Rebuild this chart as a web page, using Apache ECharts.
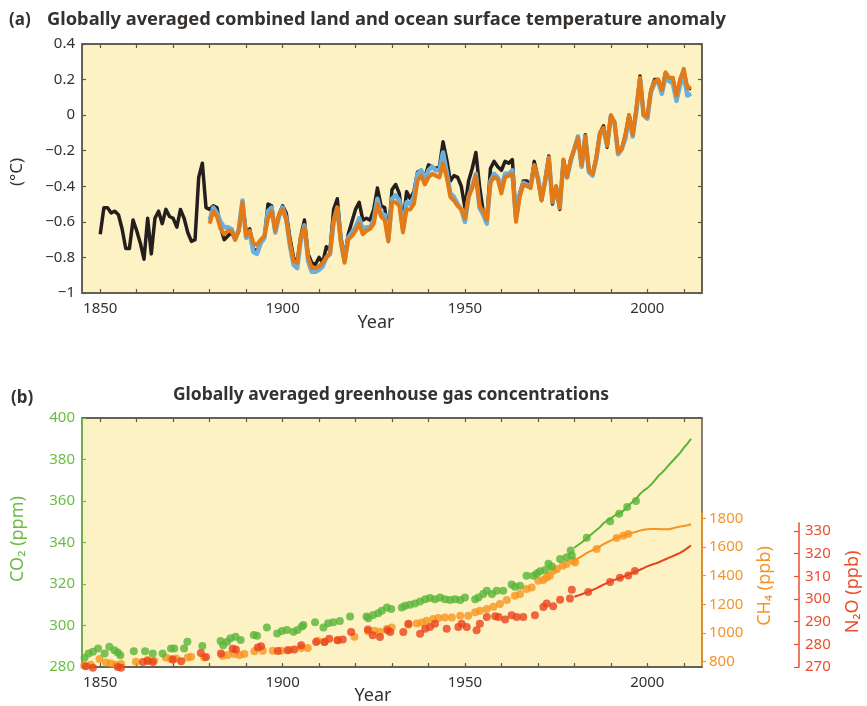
<!DOCTYPE html>
<html>
<head>
<meta charset="utf-8">
<script src="https://cdn.jsdelivr.net/npm/echarts@6/dist/echarts.min.js"></script>
<style>
  html, body { margin: 0; padding: 0; background: #ffffff; }
  #chart { width: 867px; height: 706px; }
</style>
</head>
<body>
<div id="chart"></div>
<script>
// ---- (a) annual temperature anomaly (°C) ----
const tempStart = 1850;          // first year of the long record
const landOceanStart = 1880;     // first year of the two shorter records

const hadcrut4 = [
  -0.67,-0.52,-0.52,-0.55,-0.54,-0.56,-0.64,-0.75,-0.75,-0.59,
  -0.65,-0.72,-0.81,-0.58,-0.78,-0.58,-0.54,-0.61,-0.53,-0.57,
  -0.58,-0.63,-0.53,-0.58,-0.66,-0.71,-0.70,-0.35,-0.27,-0.52,
  -0.53,-0.51,-0.52,-0.63,-0.70,-0.68,-0.66,-0.70,-0.65,-0.49,
  -0.66,-0.64,-0.75,-0.77,-0.71,-0.69,-0.50,-0.51,-0.66,-0.56,
  -0.51,-0.55,-0.69,-0.80,-0.83,-0.68,-0.59,-0.78,-0.83,-0.84,
  -0.80,-0.83,-0.74,-0.76,-0.53,-0.47,-0.69,-0.80,-0.67,-0.60,
  -0.53,-0.49,-0.59,-0.58,-0.59,-0.53,-0.41,-0.51,-0.52,-0.67,
  -0.42,-0.39,-0.44,-0.61,-0.43,-0.47,-0.43,-0.32,-0.31,-0.35,
  -0.28,-0.29,-0.30,-0.29,-0.15,-0.25,-0.37,-0.34,-0.35,-0.40,
  -0.52,-0.37,-0.30,-0.21,-0.40,-0.54,-0.58,-0.30,-0.26,-0.29,
  -0.31,-0.26,-0.27,-0.25,-0.57,-0.44,-0.37,-0.37,-0.40,-0.26,
  -0.35,-0.48,-0.36,-0.23,-0.50,-0.40,-0.53,-0.25,-0.35,-0.25,
  -0.19,-0.12,-0.29,-0.11,-0.32,-0.33,-0.24,-0.10,-0.06,-0.18,
   0.00,-0.04,-0.21,-0.19,-0.11, 0.00,-0.10, 0.03, 0.22, 0.00,
  -0.01, 0.14, 0.20, 0.20, 0.13, 0.24, 0.20, 0.21, 0.10, 0.20,
   0.25, 0.15, 0.15
];

const noaaMlost = [
  -0.61,-0.54,-0.57,-0.64,-0.67,-0.65,-0.65,-0.70,-0.65,-0.49,
  -0.68,-0.65,-0.72,-0.73,-0.70,-0.68,-0.58,-0.54,-0.65,-0.56,
  -0.53,-0.59,-0.72,-0.82,-0.83,-0.68,-0.63,-0.80,-0.86,-0.86,
  -0.85,-0.83,-0.80,-0.78,-0.59,-0.52,-0.72,-0.83,-0.70,-0.68,
  -0.65,-0.61,-0.67,-0.65,-0.64,-0.61,-0.50,-0.57,-0.59,-0.71,
  -0.49,-0.49,-0.51,-0.66,-0.53,-0.53,-0.50,-0.37,-0.34,-0.39,
  -0.35,-0.33,-0.34,-0.35,-0.27,-0.35,-0.46,-0.48,-0.51,-0.53,
  -0.58,-0.46,-0.41,-0.34,-0.51,-0.54,-0.59,-0.38,-0.35,-0.36,
  -0.44,-0.35,-0.34,-0.33,-0.60,-0.46,-0.39,-0.40,-0.41,-0.28,
  -0.36,-0.48,-0.37,-0.24,-0.49,-0.40,-0.52,-0.25,-0.35,-0.25,
  -0.19,-0.13,-0.28,-0.12,-0.31,-0.33,-0.24,-0.10,-0.07,-0.17,
   0.00,-0.04,-0.21,-0.19,-0.11, 0.00,-0.11, 0.04, 0.21, 0.00,
  -0.01, 0.14, 0.19, 0.20, 0.14, 0.24, 0.21, 0.21, 0.11, 0.20,
   0.26, 0.15, 0.16
];

const nasaGiss = [
  -0.59,-0.52,-0.55,-0.60,-0.63,-0.63,-0.64,-0.70,-0.64,-0.48,
  -0.69,-0.66,-0.77,-0.78,-0.72,-0.69,-0.54,-0.52,-0.66,-0.57,
  -0.52,-0.58,-0.73,-0.84,-0.86,-0.70,-0.62,-0.82,-0.88,-0.88,
  -0.87,-0.85,-0.80,-0.78,-0.60,-0.52,-0.71,-0.82,-0.69,-0.66,
  -0.63,-0.58,-0.64,-0.63,-0.63,-0.59,-0.47,-0.56,-0.56,-0.70,
  -0.47,-0.45,-0.48,-0.64,-0.49,-0.50,-0.46,-0.33,-0.31,-0.36,
  -0.31,-0.29,-0.31,-0.31,-0.21,-0.32,-0.44,-0.46,-0.50,-0.53,
  -0.60,-0.46,-0.40,-0.33,-0.52,-0.56,-0.61,-0.37,-0.33,-0.35,
  -0.41,-0.33,-0.33,-0.31,-0.58,-0.45,-0.38,-0.39,-0.40,-0.29,
  -0.35,-0.47,-0.37,-0.24,-0.49,-0.41,-0.52,-0.27,-0.35,-0.26,
  -0.19,-0.12,-0.29,-0.12,-0.32,-0.34,-0.25,-0.11,-0.08,-0.17,
  -0.01,-0.04,-0.22,-0.19,-0.13,-0.01,-0.12, 0.02, 0.20, 0.00,
  -0.02, 0.13, 0.18, 0.19, 0.12, 0.22, 0.19, 0.18, 0.08, 0.17,
   0.22, 0.11, 0.12
];

// ---- (b) greenhouse gases: ice-core / firn samples (dots) ----
const co2CoreYears = [
  1845.7,1846.8,1848.0,1849.4,1851.2,1852.5,1853.9,1854.8,1855.5,1859.2,
  1862.3,1864.4,1867.1,1869.4,1870.3,1873.0,1873.9,1878.0,1883.0,1883.7,
  1884.8,1885.7,1887.1,1888.5,1892.1,1893.0,1895.7,1898.5,1899.8,1901.2,
  1903.0,1904.1,1905.3,1905.7,1908.9,1911.2,1912.5,1913.9,1915.7,1918.5,
  1923.0,1923.5,1924.8,1926.2,1927.2,1928.6,1929.8,1932.7,1933.6,1934.9,
  1936.3,1937.7,1939.1,1940.4,1941.8,1943.2,1944.5,1945.9,1947.3,1948.7,
  1950.0,1952.8,1953.7,1955.0,1956.0,1957.4,1958.7,1960.5,1962.8,1963.7,
  1965.1,1966.9,1968.8,1969.7,1970.6,1972.0,1972.9,1973.8,1976.1,1977.9,
  1979.0,1979.3,1983.4,1989.8,1992.3,1994.5,1996.9
];
const co2CoreValues = [
  284.4,286.5,287.3,288.9,286.5,289.7,288.1,287.0,285.7,287.6,
  287.6,286.5,286.5,288.9,288.9,288.9,292.2,290.1,292.5,290.5,
  292.2,293.8,294.6,293.0,295.4,295.1,299.0,296.2,297.4,297.8,
  297.0,297.8,299.5,300.3,301.6,299.0,301.1,301.6,302.2,304.3,
  304.3,303.5,305.1,305.9,307.1,308.7,307.9,308.7,309.5,310.0,
  310.6,311.6,312.7,313.2,312.7,313.5,312.7,312.3,312.7,312.3,
  313.5,312.7,313.5,315.2,316.8,315.2,316.8,316.8,319.7,318.7,
  319.2,324.0,324.0,325.1,326.1,326.8,329.7,328.4,332.1,332.9,
  336.1,333.7,342.3,350.3,353.9,357.1,360.0
];

const ch4CoreYears = [
  1845.6,1847.4,1849.8,1851.6,1853.0,1854.3,1855.7,1859.8,1863.0,1864.8,
  1868.0,1869.4,1870.8,1874.0,1874.9,1878.5,1883.5,1885.0,1886.8,1888.2,
  1889.5,1892.3,1894.6,1897.3,1899.6,1901.9,1905.1,1906.9,1909.6,1911.5,
  1915.1,1919.7,1923.4,1925.2,1926.7,1928.6,1929.9,1934.5,1936.8,1938.2,
  1939.5,1941.3,1942.7,1944.5,1946.4,1948.7,1950.9,1952.8,1954.1,1956.0,
  1957.8,1959.6,1961.5,1963.7,1965.1,1966.9,1968.3,1970.1,1971.5,1972.4,
  1973.3,1974.2,1975.2,1976.8,1977.9,1979.7,1980.2,1986.1,1991.6,1993.4,
  1994.8
];
const ch4CoreValues = [
  772,779,819,795,788,779,784,800,812,807,
  830,819,823,830,835,830,842,847,854,847,
  854,872,877,877,877,882,896,896,946,939,
  951,974,1012,1016,1009,1028,1039,1058,1067,1074,
  1086,1098,1105,1109,1109,1121,1121,1144,1156,1167,
  1184,1202,1230,1260,1272,1307,1318,1365,1370,1388,
  1400,1435,1446,1469,1481,1504,1492,1586,1662,1679,
  1690
];

const n2oCoreYears = [
  1846.1,1848.0,1854.8,1855.7,1861.7,1863.0,1864.4,1869.9,1872.2,1877.6,
  1879.0,1883.1,1886.3,1887.2,1893.2,1894.1,1898.7,1901.4,1903.2,1905.1,
  1909.2,1911.5,1912.8,1915.1,1916.5,1918.8,1923.4,1924.7,1926.7,1928.8,
  1929.5,1933.1,1934.5,1937.7,1939.1,1940.4,1941.8,1945.0,1948.2,1949.1,
  1950.5,1953.2,1954.1,1956.0,1958.3,1959.2,1961.0,1962.8,1964.2,1966.0,
  1969.2,1971.5,1972.4,1974.2,1976.1,1978.8,1979.3,1983.8,1989.8,1992.5,
  1994.8,1996.6
];
const n2oCoreValues = [
  270.3,269.7,270.0,269.7,272.2,272.6,272.2,273.3,272.5,276.2,
  274.4,275.9,278.1,277.7,278.6,279.1,277.1,277.4,277.7,279.6,
  281.0,281.0,282.5,281.8,282.1,285.4,286.5,284.0,283.2,286.2,
  285.4,285.4,289.1,284.7,286.9,287.6,289.1,286.9,287.6,289.1,
  287.6,286.2,289.1,292.1,292.4,292.1,290.9,292.8,292.1,292.1,
  292.8,296.5,298.0,296.8,299.7,300.2,304.1,303.1,307.5,309.4,
  310.4,312.3
];

// ---- (b) greenhouse gases: direct atmospheric measurements (lines) ----
const airStart = 1980;
const co2Air = [
  337.5,338.8,340.0,341.5,343.0,344.5,345.9,347.4,349.3,350.6,
  351.7,352.9,353.8,354.7,356.2,358.0,359.7,361.0,363.4,365.0,
  366.2,367.8,369.8,372.0,373.6,375.5,377.5,379.4,381.3,383.2,
  385.6,387.7,390.0
];
const ch4Air = [
  1505,1520,1535,1552,1566,1578,1590,1605,1620,1633,
  1645,1658,1668,1676,1684,1692,1700,1706,1714,1721,
  1724,1725,1725,1726,1724,1723,1724,1730,1737,1742,
  1747,1752,1758
];
const n2oAir = [
  301.0,301.5,302.1,302.7,303.3,304.0,304.7,305.5,306.3,307.1,
  307.8,308.4,308.9,309.6,310.2,310.9,311.6,312.3,312.9,313.6,
  314.4,315.0,315.5,316.1,316.8,317.5,318.2,318.9,319.6,320.3,
  321.3,322.4,323.6
];

// ---- axis ticks ----
const decadeTicks = [1850,1860,1870,1880,1890,1900,1910,1920,1930,1940,1950,1960,1970,1980,1990,2000,2010];
const yearLabels = [1850,1900,1950,2000];
const ch4Ticks = [800,1000,1200,1400,1600,1800];
const n2oTicks = [270,280,290,300,310,320,330];

// ---- styling ----
const FONT = "'Noto Sans','Open Sans','DejaVu Sans',sans-serif";
const frame = '#5e584e';
const ink = '#35312e';
const paper = '#fdf2c4';
const green = '#59b438';
const greenText = '#6cbd45';
const orange = '#f7931e';
const orangeText = '#f5942a';
const red = '#e8421d';
const redText = '#e94f2c';

const annual = (start, vals) => vals.map((v, i) => [start + i, v]);
const zip = (xs, ys) => xs.map((x, i) => [x, ys[i]]);
const fmtTemp = v => {
  const r = Math.round(v * 10) / 10;
  if (r === 0) return '0';
  return (r < 0 ? '\u2212' : '') + String(Math.abs(r));
};

function yearAxis(grid, position, labels, show) {
  return {
    type: 'value', gridIndex: grid, min: 1845, max: 2015, position: position,
    show: show !== false,
    axisLine: { show: true, onZero: false, lineStyle: { color: frame, width: 1.5 } },
    axisTick: { show: true, inside: true, length: 4, customValues: decadeTicks,
                lineStyle: { color: frame, width: 1.2 } },
    axisLabel: { show: labels, customValues: yearLabels, margin: 8, fontSize: 15,
                 color: ink, fontFamily: FONT, formatter: v => String(v) },
    splitLine: { show: false }
  };
}

const chart = echarts.init(document.getElementById('chart'), null, { renderer: 'canvas' });

const option = {
  animation: false,
  textStyle: { fontFamily: FONT },
  grid: [
    { left: 82, top: 44, width: 620, height: 249, show: true, backgroundColor: paper,
      borderColor: frame, borderWidth: 1.5 },
    { left: 82, top: 418, width: 620, height: 249, show: true, backgroundColor: paper,
      borderColor: frame, borderWidth: 1.5 },
    { left: 82, top: 513, width: 620, height: 154 },
    { left: 82, top: 523, width: 620, height: 144 }
  ],
  xAxis: [
    yearAxis(0, 'bottom', true),
    yearAxis(0, 'top', false),
    yearAxis(1, 'bottom', true),
    yearAxis(1, 'top', false),
    yearAxis(2, 'bottom', false, false),
    yearAxis(3, 'bottom', false, false)
  ],
  yAxis: [
    { type: 'value', gridIndex: 0, position: 'left', min: -1, max: 0.4, interval: 0.2,
      axisLine: { show: true, onZero: false, lineStyle: { color: frame, width: 1.5 } },
      axisTick: { show: true, inside: true, length: 4, lineStyle: { color: frame, width: 1.2 } },
      axisLabel: { margin: 7, fontSize: 15, color: ink, formatter: fmtTemp },
      splitLine: { show: false } },
    { type: 'value', gridIndex: 0, position: 'right', min: -1, max: 0.4, interval: 0.2,
      axisLine: { show: true, onZero: false, lineStyle: { color: frame, width: 1.5 } },
      axisTick: { show: true, inside: true, length: 4, lineStyle: { color: frame, width: 1.2 } },
      axisLabel: { show: false }, splitLine: { show: false } },
    { type: 'value', gridIndex: 1, position: 'left', min: 280, max: 400, interval: 20,
      axisLine: { show: true, onZero: false, lineStyle: { color: greenText, width: 1.5 } },
      axisTick: { show: true, inside: true, length: 4, lineStyle: { color: greenText, width: 1.2 } },
      axisLabel: { margin: 7, fontSize: 15, color: greenText, formatter: v => String(v) },
      splitLine: { show: false } },
    { type: 'value', gridIndex: 2, position: 'right', min: 763, max: 1837,
      axisLine: { show: true, onZero: false, lineStyle: { color: orange, width: 1.5 } },
      axisTick: { show: true, inside: false, length: 4, customValues: ch4Ticks,
                  lineStyle: { color: orange, width: 1.2 } },
      axisLabel: { margin: 7, fontSize: 15, color: orangeText, customValues: ch4Ticks,
                   formatter: v => String(v) },
      splitLine: { show: false } },
    { type: 'value', gridIndex: 3, position: 'right', offset: 97, min: 270, max: 333.5,
      axisLine: { show: true, onZero: false, lineStyle: { color: redText, width: 1.5 } },
      axisTick: { show: true, inside: true, length: 5, customValues: n2oTicks,
                  lineStyle: { color: redText, width: 1.2 } },
      axisLabel: { margin: 6, fontSize: 15, color: redText, customValues: n2oTicks,
                   formatter: v => String(v) },
      splitLine: { show: false } }
  ],
  series: [
    { name: 'HadCRUT4', type: 'line', xAxisIndex: 0, yAxisIndex: 0, z: 2,
      data: annual(tempStart, hadcrut4), showSymbol: false,
      lineStyle: { color: '#241f1c', width: 3.5, join: 'round' } },
    { name: 'NASA GISS', type: 'line', xAxisIndex: 0, yAxisIndex: 0, z: 3,
      data: annual(landOceanStart, nasaGiss), showSymbol: false,
      lineStyle: { color: '#6aafde', width: 4.5, join: 'round' } },
    { name: 'NOAA MLOST', type: 'line', xAxisIndex: 0, yAxisIndex: 0, z: 4,
      data: annual(landOceanStart, noaaMlost), showSymbol: false,
      lineStyle: { color: '#e27a18', width: 4, join: 'round' } },

    { name: 'CH4 cores', type: 'scatter', xAxisIndex: 4, yAxisIndex: 3, z: 3, clip: false,
      data: zip(ch4CoreYears, ch4CoreValues), symbolSize: 8,
      itemStyle: { color: orange } },
    { name: 'CH4 air', type: 'line', xAxisIndex: 4, yAxisIndex: 3, z: 3, clip: false,
      data: annual(airStart, ch4Air), showSymbol: false,
      lineStyle: { color: orange, width: 2 } },
    { name: 'N2O cores', type: 'scatter', xAxisIndex: 5, yAxisIndex: 4, z: 4, clip: false,
      data: zip(n2oCoreYears, n2oCoreValues), symbolSize: 8,
      itemStyle: { color: red } },
    { name: 'N2O air', type: 'line', xAxisIndex: 5, yAxisIndex: 4, z: 4, clip: false,
      data: annual(airStart, n2oAir), showSymbol: false,
      lineStyle: { color: red, width: 2 } },
    { name: 'CO2 cores', type: 'scatter', xAxisIndex: 2, yAxisIndex: 2, z: 5, clip: false,
      data: zip(co2CoreYears, co2CoreValues), symbolSize: 8,
      itemStyle: { color: green } },
    { name: 'CO2 air', type: 'line', xAxisIndex: 2, yAxisIndex: 2, z: 5,
      data: annual(airStart, co2Air), showSymbol: false,
      lineStyle: { color: green, width: 2 } }
  ],
  graphic: [
    { type: 'text', x: 9, y: 20, style: { text: '(a)', font: 'bold 17px ' + FONT, fill: ink,
      verticalAlign: 'middle' } },
    { type: 'text', x: 47, y: 20, style: { text: 'Globally averaged combined land and ocean surface temperature anomaly',
      font: 'bold 18.3px ' + FONT, fill: ink, verticalAlign: 'middle' } },
    { type: 'text', x: 17, y: 172, rotation: Math.PI / 2, style: { text: '(\u00b0C)',
      font: '17px ' + FONT, fill: ink, align: 'center', verticalAlign: 'middle' } },
    { type: 'text', x: 376, y: 323, style: { text: 'Year', font: '18px ' + FONT, fill: ink,
      align: 'center', verticalAlign: 'middle' } },

    { type: 'text', x: 11, y: 398, style: { text: '(b)', font: 'bold 17px ' + FONT, fill: ink,
      verticalAlign: 'middle' } },
    { type: 'text', x: 391, y: 395, style: { text: 'Globally averaged greenhouse gas concentrations',
      font: 'bold 17.5px ' + FONT, fill: ink, align: 'center', verticalAlign: 'middle' } },
    { type: 'text', x: 18, y: 539, rotation: Math.PI / 2, style: { text: 'CO\u2082 (ppm)',
      font: '18px ' + FONT, fill: greenText, align: 'center', verticalAlign: 'middle' } },
    { type: 'text', x: 373, y: 696, style: { text: 'Year', font: '18px ' + FONT, fill: ink,
      align: 'center', verticalAlign: 'middle' } },
    { type: 'text', x: 765, y: 586, rotation: Math.PI / 2, style: { text: 'CH\u2084 (ppb)',
      font: '18px ' + FONT, fill: orangeText, align: 'center', verticalAlign: 'middle' } },
    { type: 'text', x: 853, y: 592, rotation: Math.PI / 2, style: { text: 'N\u2082O (ppb)',
      font: '18px ' + FONT, fill: redText, align: 'center', verticalAlign: 'middle' } }
  ]
};

chart.setOption(option);
</script>
</body>
</html>
